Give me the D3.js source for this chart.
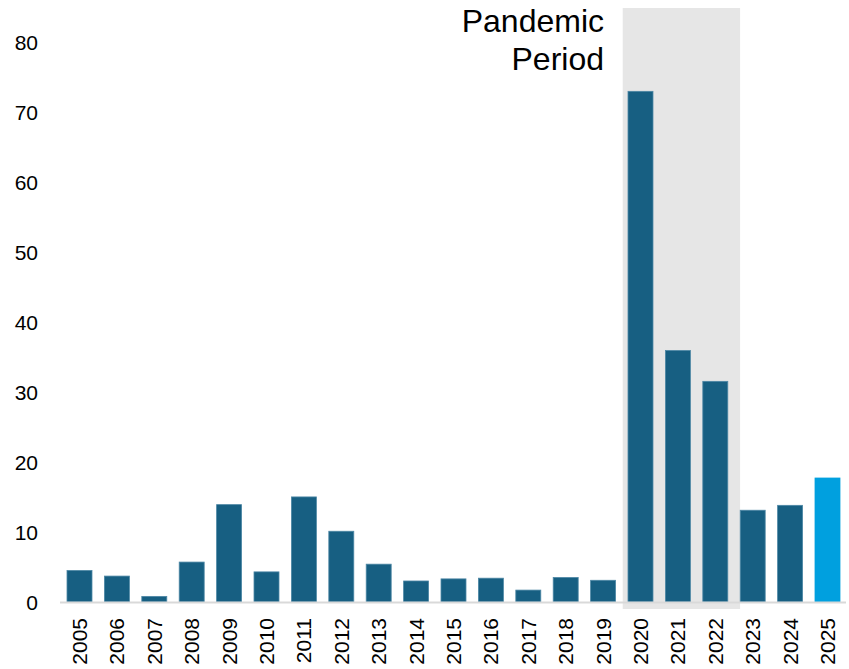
<!DOCTYPE html>
<html>
<head>
<meta charset="utf-8">
<script src="https://cdn.jsdelivr.net/npm/d3@7"></script>
<style>
  html, body { margin: 0; padding: 0; background: #fff; }
  svg { display: block; font-family: "Liberation Sans", Arial, sans-serif; }
</style>
</head>
<body>
<svg id="chart" width="849" height="669"></svg>
<script>
const years = ["2005","2006","2007","2008","2009","2010","2011","2012","2013","2014","2015","2016","2017","2018","2019","2020","2021","2022","2023","2024","2025"];
const values = [4.5, 3.7, 0.8, 5.7, 13.9, 4.3, 15.0, 10.1, 5.4, 3.0, 3.3, 3.4, 1.7, 3.5, 3.1, 72.9, 35.9, 31.5, 13.1, 13.8, 17.7];
const highlightYears = ["2025"];
const yTicks = [0, 10, 20, 30, 40, 50, 60, 70, 80];
const pandemicYears = ["2020", "2022"];
const pandemicLabel = ["Pandemic", "Period"];

const svg = d3.select("#chart");

const x = d3.scaleBand()
  .domain(years)
  .range([60.8, 846.2])
  .paddingInner(0.332)
  .paddingOuter(0.166);

const y = d3.scaleLinear()
  .domain([0, 80])
  .range([602, 41.6]);

// Pandemic shading
const shadeX0 = x(pandemicYears[0]) - 5.3;
const shadeX1 = x(pandemicYears[1]) + x.bandwidth() + 12.3;
svg.append("rect")
  .attr("x", shadeX0)
  .attr("y", 8)
  .attr("width", shadeX1 - shadeX0)
  .attr("height", 609 - 8)
  .attr("fill", "#e6e6e6");

// Bars
svg.append("g").selectAll("rect")
  .data(years.map((yr, i) => ({ yr, v: values[i] })))
  .join("rect")
  .attr("x", d => x(d.yr))
  .attr("y", d => y(d.v))
  .attr("width", x.bandwidth())
  .attr("height", d => y(0) - y(d.v))
  .attr("fill", d => highlightYears.includes(d.yr) ? "#00a0df" : "#175f82")
  .attr("stroke", d => highlightYears.includes(d.yr) ? "#00a0df" : "#4d87a5")
  .attr("stroke-width", 0.8);

// Baseline axis
svg.append("line")
  .attr("x1", 60)
  .attr("x2", 846)
  .attr("y1", y(0) + 0.5)
  .attr("y2", y(0) + 0.5)
  .attr("stroke", "#d9d9d9")
  .attr("stroke-width", 2);

// Y axis
const yAxis = d3.axisLeft(y).tickValues(yTicks).tickSize(0).tickPadding(0);
const yg = svg.append("g")
  .attr("transform", "translate(38,0)")
  .call(yAxis);
yg.select(".domain").remove();
yg.selectAll("text")
  .attr("font-size", 21)
  .attr("font-family", "Liberation Sans, Arial, sans-serif")
  .attr("fill", "#000")
  .attr("dy", "0.36em");

// X axis labels
const xAxis = d3.axisBottom(x).tickSize(0).tickPadding(0);
const xg = svg.append("g")
  .attr("transform", `translate(0,${y(0)})`)
  .call(xAxis);
xg.select(".domain").remove();
xg.selectAll("text")
  .attr("font-size", 21)
  .attr("font-family", "Liberation Sans, Arial, sans-serif")
  .attr("fill", "#000")
  .attr("text-anchor", "end")
  .attr("transform", "rotate(-90)")
  .attr("x", -16)
  .attr("y", 0)
  .attr("dy", "0.36em");

// Pandemic label
const lbl = svg.append("text")
  .attr("x", 604)
  .attr("y", 32)
  .attr("text-anchor", "end")
  .attr("font-size", 32)
  .attr("fill", "#000");
lbl.selectAll("tspan")
  .data(pandemicLabel)
  .join("tspan")
  .attr("x", 604)
  .attr("dy", (d, i) => i === 0 ? 0 : 38)
  .text(d => d);
</script>
</body>
</html>
